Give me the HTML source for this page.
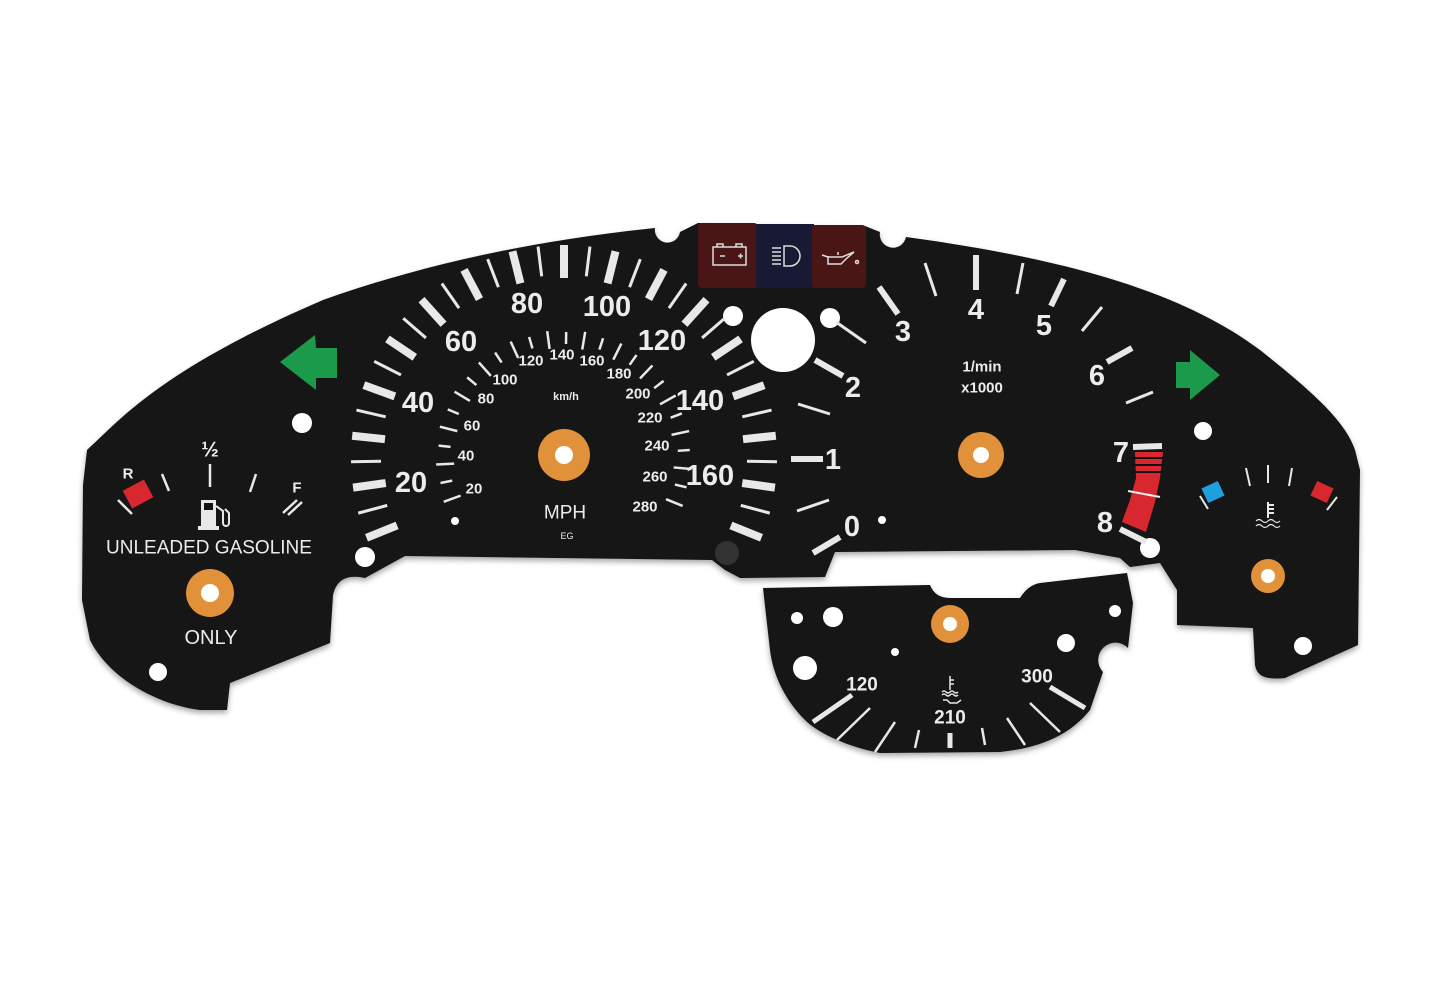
<!DOCTYPE html>
<html><head><meta charset="utf-8"><style>
html,body{margin:0;padding:0;background:#fff;}
svg{display:block}
text{font-family:"Liberation Sans Narrow","Liberation Sans",sans-serif;font-weight:bold;fill:#ececec;text-anchor:middle;dominant-baseline:central}
text.n{font-weight:normal;font-family:"Liberation Sans",sans-serif}
</style></head><body>
<svg width="1445" height="993" viewBox="0 0 1445 993" xmlns="http://www.w3.org/2000/svg">
<defs><filter id="sh" x="-5%" y="-5%" width="110%" height="115%"><feDropShadow dx="0" dy="3" stdDeviation="3" flood-color="#000" flood-opacity="0.35"/></filter></defs>
<g filter="url(#sh)">
<path fill="#121212" d="M87,450 C120,420 160,370 323,300 C430,262 540,240 655,228 A12,12 0 0 0 680,232 L698,223 L865,226 L880,232 A12,12 0 0 0 906,237 C1060,258 1180,290 1260,350 C1310,390 1345,420 1355,450 L1360,470 L1358,645 L1285,678 C1265,680 1257,676 1255,665 L1253,628 L1177,625 L1177,590 L1160,563 L1130,567 L1120,558 L1075,550 L835,552 L825,577 L740,578 L725,570 L712,560 L405,556 L365,578 Q338,572 333,595 L330,643 L230,683 L227,710 L200,710 C160,705 110,680 90,640 L82,600 L83,485 Z"/>
<path fill="#121212" d="M763,588 L930,585 Q935,598 950,598 L1020,598 Q1028,585 1040,583 L1127,573 L1133,603 L1128,648 A14,14 0 0 0 1103,672 L1090,710 C1070,735 1040,748 1000,752 L880,753 C840,745 815,730 805,720 C785,700 773,675 770,650 Z"/>
</g>
<rect x="698" y="223" width="60" height="65" rx="4" fill="#4a1515"/>
<rect x="756" y="224" width="58" height="64" fill="#181a33"/>
<rect x="812" y="225" width="54" height="63" rx="4" fill="#4a1515"/>
<g stroke="#ddd" stroke-width="1.5" fill="none">
<rect x="713" y="247" width="33" height="18"/><path d="M717,247v-3h6v3M736,247v-3h6v3M720,256h5M738,256h5M740.5,253.5v5"/>
<path d="M772,248h9M772,252h9M772,256h9M772,260h9M772,264h9M784,246h6a10,10 0 0 1 0,20h-6z"/>
<path d="M822,255l6,2h14l12,-5 -7,6 -6,6h-13v-8M838,255v-3"/><circle cx="857" cy="262" r="1.5"/>
</g>
<g fill="#fff">
<circle cx="302" cy="423" r="10"/><circle cx="365" cy="557" r="10"/><circle cx="158" cy="672" r="9"/>
<circle cx="733" cy="316" r="10"/><circle cx="830" cy="318" r="10"/><circle cx="783" cy="340" r="32"/>
<circle cx="1203" cy="431" r="9"/><circle cx="1150" cy="548" r="10"/><circle cx="1303" cy="646" r="9"/>
<circle cx="797" cy="618" r="6"/><circle cx="833" cy="617" r="10"/><circle cx="805" cy="668" r="12"/>
<circle cx="895" cy="652" r="4"/><circle cx="1115" cy="611" r="6"/><circle cx="1066" cy="643" r="9"/>
<circle cx="455" cy="521" r="4"/><circle cx="882" cy="520" r="4"/>
</g>
<circle cx="727" cy="553" r="12" fill="#333"/>
<g fill="#e0913a">
<circle cx="564" cy="455" r="26"/><circle cx="981" cy="455" r="23"/><circle cx="210" cy="593" r="24"/><circle cx="1268" cy="576" r="17"/><circle cx="950" cy="624" r="19"/>
</g>
<g fill="#fff">
<circle cx="564" cy="455" r="9"/><circle cx="981" cy="455" r="8"/><circle cx="210" cy="593" r="9"/><circle cx="1268" cy="576" r="7"/><circle cx="950" cy="624" r="7"/>
</g>
<path fill="#1a9a4a" d="M280,362 L315,335 L316,348 L337,348 L337,378 L316,378 L316,390 Z"/>
<path fill="#1a9a4a" d="M1220,375 L1190,350 L1190,362 L1176,362 L1176,388 L1190,388 L1190,400 Z"/>
<g id="sp" stroke="#e8e8e8"></g>
<g id="kmh" stroke="#e8e8e8"></g>
<g stroke="#e8e8e8" stroke-width="6">
<line x1="813" y1="553" x2="840" y2="537"/><line x1="791" y1="459" x2="823" y2="459"/><line x1="815" y1="360" x2="843" y2="376"/>
<line x1="879" y1="287" x2="898" y2="314"/><line x1="976" y1="255" x2="976" y2="290"/><line x1="1064" y1="279" x2="1051" y2="306"/><line x1="1132" y1="348" x2="1107" y2="362"/>
<line x1="1133" y1="447" x2="1162" y2="446"/><line x1="1120" y1="529" x2="1146" y2="542"/>
</g>
<g stroke="#e8e8e8" stroke-width="3">
<line x1="797" y1="511" x2="829" y2="500"/><line x1="798" y1="404" x2="830" y2="414"/><line x1="836" y1="322" x2="866" y2="343"/>
<line x1="925" y1="263" x2="936" y2="296"/><line x1="1023" y1="263" x2="1017" y2="294"/><line x1="1102" y1="307" x2="1082" y2="331"/><line x1="1153" y1="392" x2="1126" y2="403"/>
</g>
<path fill="#d8272f" d="M1135,452 L1163,452 L1160,478 L1155,502 L1146,532 L1122,522 L1130,500 L1136,478 Z"/>
<g stroke="#121212" stroke-width="2"><line x1="1130" y1="458" x2="1165" y2="458"/><line x1="1130" y1="465" x2="1165" y2="465"/><line x1="1130" y1="472" x2="1165" y2="472"/></g>
<line x1="1128" y1="491" x2="1160" y2="497" stroke="#eee" stroke-width="2"/>
<g stroke="#e8e8e8" stroke-width="2.5">
<line x1="118" y1="500" x2="132" y2="514"/><line x1="162" y1="474" x2="169" y2="491"/><line x1="210" y1="464" x2="210" y2="487"/>
<line x1="256" y1="474" x2="250" y2="492"/><line x1="283" y1="513" x2="297" y2="500"/><line x1="288" y1="515" x2="302" y2="502"/>
</g>
<rect x="126" y="484" width="24" height="20" fill="#d8272f" transform="rotate(-28 138 494)"/>
<g fill="#e8e8e8"><rect x="201" y="500" width="15" height="26"/><rect x="198" y="526" width="21" height="4"/></g>
<rect x="204" y="503" width="9" height="7" fill="#121212"/>
<path d="M216,506 l7,5 v12 a3,3 0 0 0 6,0 v-10 l-4,-4" fill="none" stroke="#e8e8e8" stroke-width="2"/>
<rect x="1204" y="484" width="18" height="16" fill="#1ea0dc" transform="rotate(-25 1213 492)"/>
<rect x="1313" y="484" width="18" height="16" fill="#d8272f" transform="rotate(25 1322 492)"/>
<g stroke="#e8e8e8" stroke-width="2">
<line x1="1200" y1="496" x2="1208" y2="509"/><line x1="1246" y1="468" x2="1250" y2="486"/><line x1="1268" y1="465" x2="1268" y2="483"/><line x1="1292" y1="468" x2="1289" y2="486"/><line x1="1337" y1="497" x2="1327" y2="510"/>
<line x1="1268" y1="502" x2="1268" y2="518"/><line x1="1268" y1="505" x2="1274" y2="505"/><line x1="1268" y1="509" x2="1274" y2="509"/><line x1="1268" y1="513" x2="1274" y2="513"/>
</g>
<path d="M1256,521 q3,-3 6,0 t6,0 t6,0 t6,0 M1256,526 q3,-3 6,0 t6,0 t6,0 t6,0" stroke="#e8e8e8" stroke-width="1.2" fill="none"/>
<g stroke="#e8e8e8" stroke-width="5"><line x1="813" y1="722" x2="852" y2="695"/><line x1="1050" y1="687" x2="1085" y2="708"/><line x1="950" y1="733" x2="950" y2="748"/></g>
<g stroke="#e8e8e8" stroke-width="2.5">
<line x1="837" y1="740" x2="870" y2="708"/><line x1="875" y1="752" x2="895" y2="722"/><line x1="915" y1="748" x2="919" y2="730"/><line x1="982" y1="728" x2="985" y2="745"/><line x1="1007" y1="718" x2="1025" y2="745"/><line x1="1030" y1="703" x2="1060" y2="732"/>
</g>
<g stroke="#e8e8e8" stroke-width="1.5" fill="none"><path d="M950,676v14M950,680h4M950,684h4M942,692q2,-2 4,0t4,0t4,0t4,0M942,695q2,-2 4,0t4,0t4,0t4,0M943,700h4l3,3h7l4,-3"/></g>
<g font-size="29">
<text x="411" y="483">20</text><text x="418" y="403">40</text><text x="461" y="342">60</text><text x="527" y="304">80</text>
<text x="607" y="307">100</text><text x="662" y="341">120</text><text x="700" y="401">140</text><text x="710" y="476">160</text>
<text x="852" y="527">0</text><text x="833" y="460">1</text><text x="853" y="388">2</text><text x="903" y="332">3</text>
<text x="976" y="310">4</text><text x="1044" y="326">5</text><text x="1097" y="376">6</text><text x="1121" y="453">7</text><text x="1105" y="523">8</text>
</g>
<g font-size="15">
<text x="474" y="489">20</text><text x="466" y="456">40</text><text x="472" y="426">60</text><text x="486" y="399">80</text>
<text x="505" y="380">100</text><text x="531" y="361">120</text><text x="562" y="355">140</text><text x="592" y="361">160</text>
<text x="619" y="374">180</text><text x="638" y="394">200</text><text x="650" y="418">220</text><text x="657" y="446">240</text>
<text x="655" y="477">260</text><text x="645" y="507">280</text>
<text x="982" y="367">1/min</text><text x="982" y="388">x1000</text>
</g>
<text x="566" y="397" font-size="11">km/h</text>
<text class="n" x="565" y="513" font-size="19">MPH</text>
<text class="n" x="567" y="536" font-size="9">EG</text>
<text x="128" y="474" font-size="15">R</text><text x="210" y="450" font-size="21">½</text><text x="297" y="488" font-size="15">F</text>
<text class="n" x="209" y="548" font-size="19">UNLEADED GASOLINE</text>
<text class="n" x="211" y="638" font-size="20">ONLY</text>
<g font-size="19"><text x="862" y="685">120</text><text x="950" y="718">210</text><text x="1037" y="677">300</text></g>
<script>
(function(){
var ns="http://www.w3.org/2000/svg",cx=564,cy=458;
function L(g,a,r1,r2,w){var t=a*Math.PI/180,s=Math.sin(t),c=-Math.cos(t);var l=document.createElementNS(ns,"line");
l.setAttribute("x1",cx+s*r1);l.setAttribute("y1",cy+c*r1);l.setAttribute("x2",cx+s*r2);l.setAttribute("y2",cy+c*r2);l.setAttribute("stroke-width",w);g.appendChild(l);}
var sp=document.getElementById("sp");
for(var k=-16;k<=16;k++){var th=(k%2===0);L(sp,k*7,th?180:183,213,th?8:3);}
var km=document.getElementById("kmh");
for(var i=0;i<27;i++){var a=-110+i*222/26;var maj=(i%2===0);L(km,a,maj?110:114,maj?128:126,2.5);}
})();
</script>
</svg>
</body></html>
